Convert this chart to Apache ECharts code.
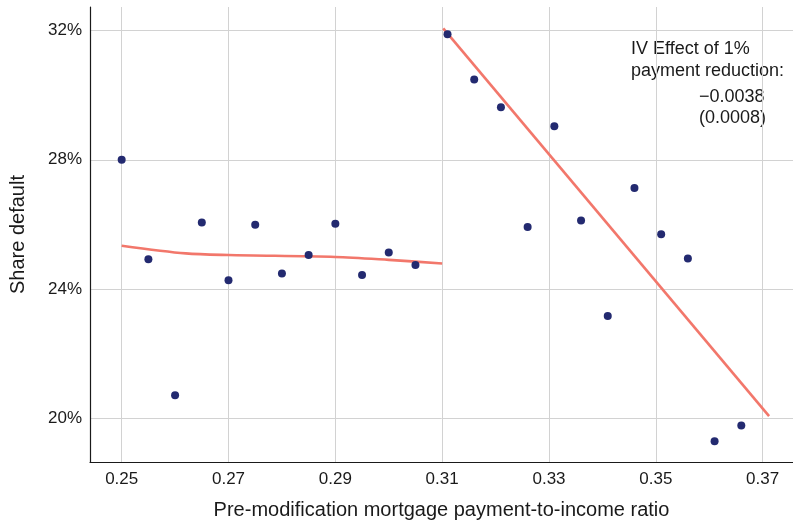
<!DOCTYPE html>
<html>
<head>
<meta charset="utf-8">
<script src="https://cdn.jsdelivr.net/npm/echarts@6/dist/echarts.min.js"></script>
<style>
  html, body { margin: 0; padding: 0; background: #ffffff; }
  #chart { width: 793px; height: 525px; }
</style>
</head>
<body>
<div id="chart"></div>
<script>
// Binned share of loans defaulting, by pre-modification payment-to-income ratio
const binsBelow = [0.25, 0.255, 0.26, 0.265, 0.27, 0.275, 0.28, 0.285, 0.29, 0.295, 0.30, 0.305];
const defaultBelow = [28.0, 24.92, 20.71, 26.06, 24.27, 25.99, 24.48, 25.05, 26.02, 24.43, 25.13, 24.74];

const binsAbove = [0.311, 0.316, 0.321, 0.326, 0.331, 0.336, 0.341, 0.346, 0.351, 0.356, 0.361, 0.366];
const defaultAbove = [31.89, 30.49, 29.63, 25.92, 29.04, 26.12, 23.16, 27.13, 25.69, 24.94, 19.28, 19.77];

// Fitted relationships on each side of the 0.31 cutoff
const fitBelowX = [0.25, 0.262, 0.27, 0.29, 0.30, 0.31];
const fitBelowY = [25.34, 25.10, 25.05, 24.99, 24.90, 24.79];
const fitAboveX = [0.3102, 0.3712];
const fitAboveY = [32.07, 20.06];

// Axis ticks
const xTicks = [0.25, 0.27, 0.29, 0.31, 0.33, 0.35, 0.37];
const yTicks = [20, 24, 28, 32];

// Annotation lines
const noteLines = ['IV Effect of 1%', 'payment reduction:'];
const noteEstimate = '\u22120.0038';
const noteSE = '(0.0008)';

const pairs = (xs, ys) => xs.map((x, i) => [x, ys[i]]);

const FONT = '"Liberation Sans", Arial, Helvetica, sans-serif';
const DOT = '#232a70';
const FIT = '#f2776b';
const GRID = '#d2d2d2';

const chart = echarts.init(document.getElementById('chart'), null, { renderer: 'canvas' });

chart.setOption({
  animation: false,
  backgroundColor: '#ffffff',
  grid: { left: 90, top: 7, width: 703, height: 455, containLabel: false },
  xAxis: {
    type: 'value',
    min: 0.24407,
    max: 0.37568,
    name: 'Pre-modification mortgage payment-to-income ratio',
    nameLocation: 'middle',
    nameGap: 38,
    nameTextStyle: { fontFamily: FONT, fontSize: 20, color: '#1a1a1a' },
    axisLine: { show: true, onZero: false, lineStyle: { color: '#1a1a1a', width: 1.2 } },
    axisTick: { show: false, customValues: xTicks },
    axisLabel: {
      customValues: xTicks,
      formatter: v => v.toFixed(2),
      fontFamily: FONT, fontSize: 17, color: '#1a1a1a', margin: 9
    },
    splitLine: { show: true, lineStyle: { color: GRID, width: 1 } }
  },
  yAxis: {
    type: 'value',
    min: 18.639,
    max: 32.733,
    name: 'Share default',
    nameLocation: 'middle',
    nameGap: 62,
    nameTextStyle: { fontFamily: FONT, fontSize: 20, color: '#1a1a1a' },
    axisLine: { show: true, onZero: false, lineStyle: { color: '#1a1a1a', width: 1.2 } },
    axisTick: { show: false, customValues: yTicks },
    axisLabel: {
      customValues: yTicks,
      formatter: v => v + '%',
      fontFamily: FONT, fontSize: 17, color: '#1a1a1a', margin: 8
    },
    splitLine: { show: true, lineStyle: { color: GRID, width: 1 } }
  },
  series: [
    {
      type: 'line',
      data: pairs(fitBelowX, fitBelowY),
      showSymbol: false,
      smooth: 0.3,
      lineStyle: { color: FIT, width: 2.6 },
      z: 2
    },
    {
      type: 'line',
      data: pairs(fitAboveX, fitAboveY),
      showSymbol: false,
      lineStyle: { color: FIT, width: 2.6 },
      z: 2
    },
    {
      type: 'scatter',
      data: pairs(binsBelow, defaultBelow),
      symbolSize: 8,
      itemStyle: { color: DOT, opacity: 1 },
      z: 3
    },
    {
      type: 'scatter',
      data: pairs(binsAbove, defaultAbove),
      symbolSize: 8,
      itemStyle: { color: DOT, opacity: 1 },
      z: 3
    }
  ],
  graphic: [
    {
      type: 'text', left: 631, top: 38,
      style: { text: noteLines.join('\n'), font: '18px ' + FONT, fill: '#1a1a1a', lineHeight: 22 }
    },
    {
      type: 'text', right: 27, top: 87,
      style: { text: noteEstimate + '\n' + noteSE, font: '18px ' + FONT, fill: '#1a1a1a', lineHeight: 21, align: 'right' }
    }
  ]
});
</script>
</body>
</html>
